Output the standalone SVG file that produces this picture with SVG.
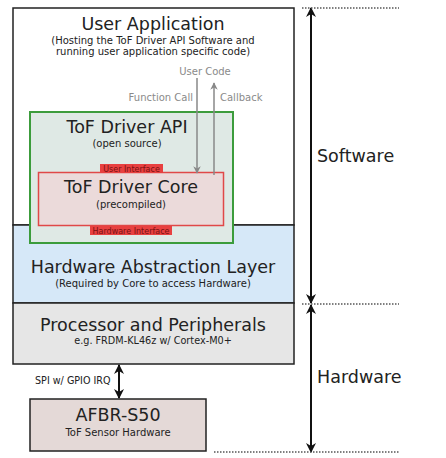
<svg xmlns="http://www.w3.org/2000/svg" width="446" height="458" viewBox="0 0 446 458">
<defs>
<style>
text{font-family:"DejaVu Sans","Liberation Sans",sans-serif;fill:#222;text-anchor:middle}
.t{font-size:17.5px}
.s{font-size:10px}
.g{fill:#8a8a8a;font-size:10px}
.lab{font-size:8px;fill:#7a1010}
.box{stroke:#222;stroke-width:1.5}
.dot{stroke:#555;stroke-width:1.5;stroke-dasharray:1.5 1.5;fill:none}
</style>
<marker id="ga" viewBox="0 0 10 10" refX="9" refY="5" markerWidth="5" markerHeight="5" orient="auto-start-reverse"><path d="M0,0 L10,5 L0,10 L3,5 z" fill="#888"/></marker>
<marker id="ba" viewBox="0 0 10 10" refX="9" refY="5" markerWidth="5" markerHeight="5" orient="auto-start-reverse"><path d="M0,0 L10,5 L0,10 L3,5 z" fill="#111"/></marker>
</defs>
<g id="user-application">
<rect class="box" x="13" y="8" width="281" height="217" fill="#fff"/>
<text class="t" x="153" y="30">User Application</text>
<text class="s" x="153" y="44">(Hosting the ToF Driver API Software and</text>
<text class="s" x="153" y="55">running user application specific code)</text>
<text class="g" x="205" y="75">User Code</text>
<text class="g" x="193" y="101" style="text-anchor:end">Function Call</text>
<text class="g" x="220" y="101" style="text-anchor:start">Callback</text>
</g>
<g id="hal">
<rect class="box" x="13" y="225" width="281" height="78" fill="#d6e8f8"/>
<text class="t" x="153" y="273">Hardware Abstraction Layer</text>
<text class="s" x="153" y="287">(Required by Core to access Hardware)</text>
</g>
<g id="processor">
<rect class="box" x="13" y="303" width="281" height="61" fill="#e6e6e6"/>
<text class="t" x="153" y="331">Processor and Peripherals</text>
<text class="s" x="153" y="344" style="font-size:9.7px">e.g. FRDM-KL46z w/ Cortex-M0+</text>
</g>
<g id="tof-driver-api">
<rect x="30" y="112" width="203" height="131" fill="#dfe9e5" stroke="#3c9c3c" stroke-width="2"/>
<text class="t" x="127" y="133">ToF Driver API</text>
<text class="s" x="127" y="147">(open source)</text>
</g>
<g id="tof-driver-core">
<rect x="38.5" y="172.5" width="185" height="53" fill="#ebdada" stroke="#e04848" stroke-width="1.5"/>
<text class="t" x="131" y="193">ToF Driver Core</text>
<text class="s" x="131" y="208">(precompiled)</text>
<rect x="100" y="164" width="63" height="9" fill="#e84040"/>
<text class="lab" x="131.5" y="171.5">User Interface</text>
<rect x="90" y="226" width="82" height="9" fill="#e84040"/>
<text class="lab" x="131" y="233.5">Hardware Interface</text>
</g>
<g id="afbr-s50">
<rect class="box" x="30" y="399" width="176" height="52" fill="#e4d9d7"/>
<text class="t" x="118" y="421">AFBR-S50</text>
<text class="s" x="118" y="436">ToF Sensor Hardware</text>
</g>
<g id="labels">
<text class="t" x="317" y="162" style="text-anchor:start">Software</text>
<text class="t" x="317" y="383" style="text-anchor:start">Hardware</text>
<text class="s" x="35" y="384" style="text-anchor:start;font-size:9.6px">SPI w/ GPIO IRQ</text>
</g>
<g id="connectors">
<line x1="197" y1="78" x2="197" y2="173" stroke="#888" stroke-width="1.5" marker-end="url(#ga)"/>
<line x1="214" y1="175" x2="214" y2="83" stroke="#888" stroke-width="1.5" marker-end="url(#ga)"/>
<line x1="119" y1="365" x2="119" y2="398" stroke="#111" stroke-width="2" marker-start="url(#ba)" marker-end="url(#ba)"/>
<line x1="311" y1="8" x2="311" y2="303" stroke="#111" stroke-width="2" marker-start="url(#ba)" marker-end="url(#ba)"/>
<line x1="311" y1="305" x2="311" y2="452" stroke="#111" stroke-width="2" marker-start="url(#ba)" marker-end="url(#ba)"/>
<line class="dot" x1="302" y1="8" x2="399" y2="8"/>
<line class="dot" x1="302" y1="304" x2="399" y2="304"/>
<line class="dot" x1="214" y1="452" x2="399" y2="452"/>
</g>
</svg>
